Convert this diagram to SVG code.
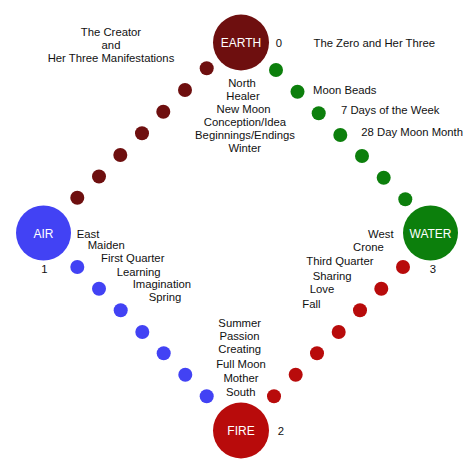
<svg xmlns="http://www.w3.org/2000/svg" width="474" height="474" viewBox="0 0 474 474">
<style>
text{font-family:"Liberation Sans",Arial,sans-serif;font-size:11.3px;fill:#111}
.w{fill:#fff;font-size:12px;text-anchor:middle}
.m{text-anchor:middle}
.br{fill:#6e0f0f}.gr{fill:#0c7f0c}.bl{fill:#4242f4}.rd{fill:#b80b0b}
</style>
<rect width="474" height="474" fill="#fff"/>
<g id="connectors">
<g class="br">
<circle cx="206.7" cy="68.3" r="7"/><circle cx="185" cy="90" r="7"/><circle cx="163.3" cy="111.7" r="7"/><circle cx="142" cy="133.3" r="7"/><circle cx="120.3" cy="155" r="7"/><circle cx="99" cy="176.5" r="7"/><circle cx="77.3" cy="197.7" r="7"/>
</g>
<g class="gr">
<circle cx="276" cy="70" r="7"/><circle cx="297.5" cy="91.7" r="7"/><circle cx="318.7" cy="113.3" r="7"/><circle cx="340.3" cy="135" r="7"/><circle cx="362" cy="156" r="7"/><circle cx="383.7" cy="177.7" r="7"/><circle cx="405.3" cy="199.3" r="7"/>
</g>
<g class="bl">
<circle cx="77.3" cy="267" r="7"/><circle cx="99" cy="288.7" r="7"/><circle cx="120.7" cy="310.3" r="7"/><circle cx="142.3" cy="332" r="7"/><circle cx="163.7" cy="353.3" r="7"/><circle cx="185.3" cy="374.7" r="7"/><circle cx="206.7" cy="396.3" r="7"/>
</g>
<g class="rd">
<circle cx="403" cy="267" r="7"/><circle cx="381.3" cy="288.7" r="7"/><circle cx="360" cy="310.3" r="7"/><circle cx="338.7" cy="332" r="7"/><circle cx="317" cy="353.3" r="7"/><circle cx="295.7" cy="374.7" r="7"/><circle cx="274" cy="396.3" r="7"/>
</g>
</g>
<g id="earth">
<circle class="br" cx="241" cy="42.5" r="28"/>
<text class="w" x="241" y="47">EARTH</text>
<text class="m" x="279" y="47">0</text>
</g>
<g id="air">
<circle class="bl" cx="43.5" cy="233" r="27.5"/>
<text class="w" x="43.5" y="237.5">AIR</text>
<text class="m" x="44.3" y="272.5">1</text>
</g>
<g id="water">
<circle class="gr" cx="430.5" cy="233" r="27.5"/>
<text class="w" x="430.5" y="237.5">WATER</text>
<text class="m" x="433" y="272.5">3</text>
</g>
<g id="fire">
<circle class="rd" cx="241" cy="430.5" r="28"/>
<text class="w" x="241" y="435">FIRE</text>
<text class="m" x="281" y="435">2</text>
</g>
<g id="creator" class="m">
<text class="m" x="111" y="36">The Creator</text>
<text class="m" x="111" y="49">and</text>
<text class="m" x="111" y="62">Her Three Manifestations</text>
</g>
<g id="zero">
<text x="313.5" y="47">The Zero and Her Three</text>
</g>
<g id="moon-beads">
<text x="313" y="94">Moon Beads</text>
<text x="341" y="114">7 Days of the Week</text>
<text x="361.3" y="135.5">28 Day Moon Month</text>
</g>
<g id="north">
<text class="m" x="242" y="86.7">North</text>
<text class="m" x="243" y="99.5">Healer</text>
<text class="m" x="243.5" y="113">New Moon</text>
<text class="m" x="245" y="126">Conception/Idea</text>
<text class="m" x="245" y="139">Beginnings/Endings</text>
<text class="m" x="244.7" y="152">Winter</text>
</g>
<g id="east">
<text x="76.7" y="237.5">East</text>
<text x="87.7" y="249">Maiden</text>
<text x="101" y="262">First Quarter</text>
<text x="116.7" y="275.5">Learning</text>
<text x="132.7" y="288">Imagination</text>
<text x="148.7" y="300.5">Spring</text>
</g>
<g id="west">
<text x="368" y="237.5">West</text>
<text x="353" y="251">Crone</text>
<text x="306.3" y="265.3">Third Quarter</text>
<text x="312.7" y="280">Sharing</text>
<text x="309.7" y="293.3">Love</text>
<text x="302.3" y="308">Fall</text>
</g>
<g id="south">
<text class="m" x="239.7" y="326.7">Summer</text>
<text class="m" x="239.5" y="339.5">Passion</text>
<text class="m" x="239.7" y="353.3">Creating</text>
<text class="m" x="241" y="367.7">Full Moon</text>
<text class="m" x="241" y="381.7">Mother</text>
<text class="m" x="240.7" y="396">South</text>
</g>
</svg>
